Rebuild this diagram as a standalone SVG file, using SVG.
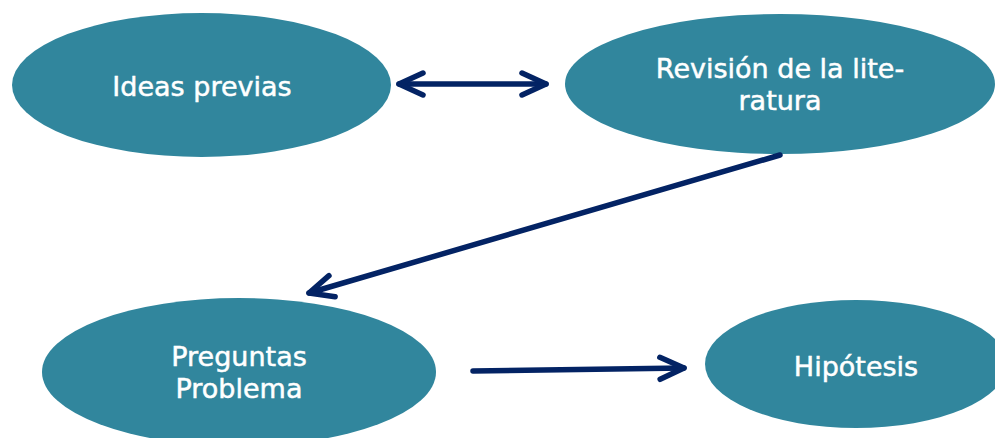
<svg xmlns="http://www.w3.org/2000/svg" width="995" height="438" viewBox="0 0 995 438">
<style>
.node ellipse{fill:#31869d}
.node text{fill:#ffffff;stroke:#ffffff;stroke-width:0.5;font-family:"DejaVu Sans","Verdana",sans-serif;font-size:27px;text-anchor:middle}
.conn path{fill:none;stroke:#032364;stroke-width:5.5;stroke-linecap:round;stroke-linejoin:round}
</style>
<defs>
<marker id="chev" markerUnits="userSpaceOnUse" viewBox="-30 -16 36 32" markerWidth="36" markerHeight="32" refX="0" refY="0" orient="auto-start-reverse">
<path d="M-24 -11 L0 0 L-24 11" fill="none" stroke="#032364" stroke-width="5.5" stroke-linecap="round" stroke-linejoin="round"/>
</marker>
</defs>
<rect width="995" height="438" fill="#ffffff"/>
<g id="ideas" class="node">
<ellipse cx="201.5" cy="85" rx="189.5" ry="72"/>
<text x="202" y="96">Ideas previas</text>
</g>
<g id="revision" class="node">
<ellipse cx="780" cy="84" rx="215" ry="70"/>
<text x="780" y="78">Revisión de la lite-</text>
<text x="780" y="110">ratura</text>
</g>
<g id="preguntas" class="node">
<ellipse cx="239" cy="372" rx="197" ry="74"/>
<text x="239" y="366">Preguntas</text>
<text x="239" y="398">Problema</text>
</g>
<g id="hipotesis" class="node">
<ellipse cx="856" cy="364" rx="151" ry="64"/>
<text x="856" y="376">Hipótesis</text>
</g>
<g id="connectors" class="conn">
<path d="M399 84 L546 84" marker-start="url(#chev)" marker-end="url(#chev)"/>
<path d="M780 155 L309 293" marker-end="url(#chev)"/>
<path d="M473 371 L684 368" marker-end="url(#chev)"/>
</g>
</svg>
